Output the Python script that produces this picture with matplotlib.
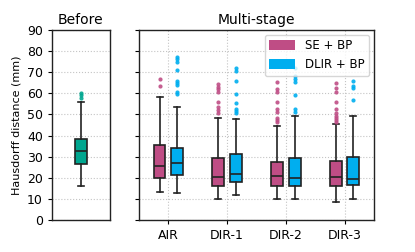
import matplotlib
matplotlib.use("Agg")
import matplotlib.pyplot as plt
from matplotlib.patches import Patch

# ---- data ----
groups = ["AIR", "DIR-1", "DIR-2", "DIR-3"]
series = ["SE + BP", "DLIR + BP"]

before_stats = dict(whislo=16.0, q1=26.5, med=32.5, q3=38.5, whishi=56.0, fliers=[58.0, 59.0, 60.0])

se_whislo = [13.4, 9.9, 9.9, 8.4]
se_q1 = [20.0, 16.1, 16.3, 16.3]
se_med = [25.6, 20.2, 21.0, 20.5]
se_q3 = [35.5, 29.2, 27.6, 28.1]
se_whishi = [58.1, 48.5, 44.5, 45.5]
se_fliers = [
    [66.7, 63.5],
    [64.2, 63.0, 62.0, 60.5, 56.0, 53.4, 52.1, 50.8],
    [65.2, 62.0, 60.8, 55.7, 52.6, 51.0, 48.5, 47.5, 46.3],
    [64.7, 62.4, 60.8, 55.7, 52.4, 50.5, 49.4, 48.3, 47.3, 46.5],
]

dl_whislo = [12.9, 11.8, 9.9, 9.9]
dl_q1 = [21.3, 18.0, 16.3, 16.6]
dl_med = [26.8, 21.6, 19.7, 19.3]
dl_q3 = [34.3, 31.1, 29.5, 30.0]
dl_whishi = [53.7, 47.8, 49.4, 49.4]
dl_fliers = [
    [77.0, 76.1, 75.0, 71.0, 65.8, 64.7, 63.9, 60.8, 59.7],
    [71.9, 70.7, 66.0, 59.5, 55.3, 52.6, 51.6, 50.8],
    [71.9, 68.0, 66.8, 65.3, 59.0, 52.6, 51.0],
    [66.0, 63.6, 62.4, 56.8],
]

ylabel = "Hausdorff distance (mm)"
yticks = [0, 10, 20, 30, 40, 50, 60, 70, 80, 90]

c_before = "#00a68f"
c_se = "#bf4d85"
c_dl = "#00aeef"

fig = plt.figure(figsize=(4.15, 2.52), dpi=100)
ax1 = fig.add_axes([0.125, 0.127, 0.14, 0.754])
ax2 = fig.add_axes([0.335, 0.127, 0.566, 0.754], sharey=ax1)

def draw(ax, stats, positions, color, width):
    bp = ax.bxp(stats, positions=positions, widths=width, patch_artist=True,
                showfliers=True, manage_ticks=False,
                boxprops=dict(facecolor=color, edgecolor="#222222", linewidth=1.2),
                medianprops=dict(color="#222222", linewidth=1.2),
                whiskerprops=dict(color="#222222", linewidth=1.2),
                capprops=dict(color="#222222", linewidth=1.2),
                flierprops=dict(marker="o", markersize=3, markerfacecolor=color,
                                markeredgecolor="none", alpha=0.9))
    return bp

# Before
draw(ax1, [before_stats], [1], c_before, 0.2)
ax1.set_xlim(0.5, 1.5)
ax1.set_xticks([])
ax1.set_title("Before", fontsize=10, pad=4)
ax1.set_ylabel(ylabel, fontsize=8)
ax1.set_ylim(0, 90)
ax1.set_yticks(yticks)
ax1.tick_params(axis="y", labelsize=9, length=3)
ax1.yaxis.grid(True, linestyle=":", color="#c4c4c4", linewidth=0.8)
ax1.set_axisbelow(True)

# Multi-stage
off = 0.15
w = 0.2
se_stats = [dict(whislo=se_whislo[i], q1=se_q1[i], med=se_med[i], q3=se_q3[i],
                 whishi=se_whishi[i], fliers=se_fliers[i]) for i in range(len(groups))]
dl_stats = [dict(whislo=dl_whislo[i], q1=dl_q1[i], med=dl_med[i], q3=dl_q3[i],
                 whishi=dl_whishi[i], fliers=dl_fliers[i]) for i in range(len(groups))]
pos = list(range(1, len(groups) + 1))
draw(ax2, se_stats, [p - off for p in pos], c_se, w)
draw(ax2, dl_stats, [p + off for p in pos], c_dl, w)
ax2.set_xlim(0.5, len(groups) + 0.5)
ax2.set_xticks(pos)
ax2.set_xticklabels(groups, fontsize=9)
ax2.set_title("Multi-stage", fontsize=10, pad=4)
ax2.tick_params(axis="y", labelleft=False, length=3)
ax2.tick_params(axis="x", length=3)
ax2.grid(True, linestyle=":", color="#c4c4c4", linewidth=0.8)
ax2.set_axisbelow(True)

handles = [Patch(facecolor=c_se, edgecolor="none", label=series[0]),
           Patch(facecolor=c_dl, edgecolor="none", label=series[1])]
ax2.legend(handles=handles, loc="upper right", fontsize=8.5, frameon=True,
           fancybox=True, edgecolor="#cccccc", handlelength=2.2, handleheight=0.9,
           borderaxespad=0.4)

for ax in (ax1, ax2):
    for s in ax.spines.values():
        s.set_color("#222222")
        s.set_linewidth(1.0)

fig.savefig("out.png", dpi=100)
